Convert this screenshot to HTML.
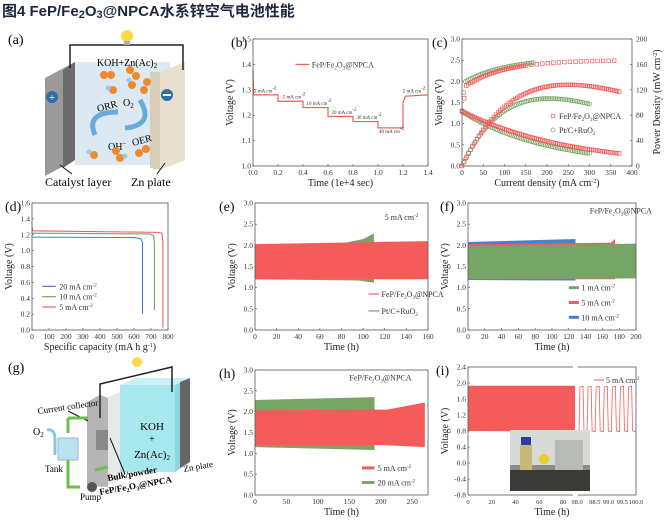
<!DOCTYPE html>
<html><head><meta charset="utf-8"><style>
html,body{margin:0;padding:0;background:#fff;width:672px;height:522px;overflow:hidden}
svg{display:block;font-family:"Liberation Serif",serif}
.ttl{font-family:"Liberation Sans","Noto Sans CJK SC",sans-serif;font-weight:bold;font-size:15px;fill:#1d2840}
</style></head><body>
<svg id="s" width="672" height="522" viewBox="0 0 672 522" xmlns="http://www.w3.org/2000/svg">
<text class="ttl" x="2" y="16">图4 FeP/Fe<tspan font-size="11" dy="2">2</tspan><tspan dy="-2">O</tspan><tspan font-size="11" dy="2">3</tspan><tspan dy="-2">@NPCA水系锌空气电池性能</tspan></text>
<!-- panel a -->
<text x="8" y="44" font-size="14">(a)</text>
<polygon points="75,62 170,62 170,165 75,165" fill="#dce9f3"/>
<polygon points="45,78 75,62 75,160 45,176" fill="#9a9a9a"/>
<polygon points="63,70 75,62 75,160 63,168" fill="#6b6b6b"/>
<polygon points="160,72 185,62 185,160 160,170" fill="#e8e0cf"/>
<polygon points="150,72 160,72 160,170 150,168" fill="#d8cdb6"/>
<polyline points="70,68 70,45 183,45 183,70" fill="none" stroke="#222" stroke-width="1.5"/>
<circle cx="127" cy="36" r="6" fill="#ffd84a"/><rect x="124" y="41" width="6" height="4" fill="#aaa"/>
<circle cx="52" cy="97" r="6" fill="#2f6fa8"/><text x="52" y="101" font-size="11" fill="#fff" text-anchor="middle">+</text>
<circle cx="167" cy="95" r="6" fill="#2f6fa8"/><rect x="163" y="94" width="8" height="2" fill="#fff"/>
<text x="127" y="66" font-size="10" text-anchor="middle">KOH+Zn(Ac)<tspan font-size="7" dy="2">2</tspan></text>
<text x="98" y="112" font-size="10" transform="rotate(-15 98 112)">ORR</text>
<text x="123" y="106" font-size="10">O<tspan font-size="7" dy="2">2</tspan></text>
<text x="108" y="150" font-size="10">OH<tspan font-size="7" dy="-4">−</tspan></text>
<text x="133" y="146" font-size="10" transform="rotate(-15 133 146)">OER</text>
<path d="M95,135 Q85,112 118,112" fill="none" stroke="#6aa9d8" stroke-width="5"/>
<path d="M125,128 Q155,125 140,100" fill="none" stroke="#6aa9d8" stroke-width="5"/>
<g fill="#ee8a2e">
<circle cx="104" cy="75" r="4"/><circle cx="111" cy="75" r="4"/><circle cx="130" cy="70" r="4"/><circle cx="136" cy="76" r="4"/>
<circle cx="132" cy="85" r="4"/><circle cx="144" cy="90" r="4"/><circle cx="147" cy="82" r="4"/><circle cx="113" cy="90" r="4"/>
<circle cx="94" cy="155" r="4"/><circle cx="116" cy="151" r="4"/><circle cx="120" cy="158" r="4"/><circle cx="139" cy="153" r="4"/><circle cx="146" cy="149" r="4"/>
</g>
<g fill="#9cc9ea"><circle cx="108" cy="88" r="2.5"/><circle cx="129" cy="80" r="2.5"/><circle cx="89" cy="152" r="2.5"/><circle cx="125" cy="156" r="2.5"/></g>
<line x1="60" y1="165" x2="72" y2="174" stroke="#111"/><line x1="165" y1="163" x2="157" y2="174" stroke="#111"/>
<text x="45" y="186" font-size="12">Catalyst layer</text><text x="131" y="186" font-size="12">Zn plate</text>
<!-- panel g -->
<text x="8" y="372" font-size="14">(g)</text>
<polygon points="120,385 135,378 190,378 175,385" fill="#c9f0f3"/>
<polygon points="120,385 175,385 175,472 120,472" fill="#a7e8ee"/>
<polygon points="175,385 190,378 190,462 175,472" fill="#8fd6de"/>
<polygon points="180,382 190,378 190,462 180,468" fill="#666"/>
<polygon points="106,398 120,392 120,480 106,486" fill="#e8e8e8"/>
<polygon points="87,402 100,395 108,398 108,487 87,486" fill="#b5b5b5"/>
<rect x="96" y="430" width="12" height="20" fill="#888"/>
<polyline points="100,418 100,384 172,367 172,392" fill="none" stroke="#222" stroke-width="1.5"/>
<circle cx="137" cy="362" r="5" fill="#ffd84a"/>
<text x="152" y="430" font-size="11" text-anchor="middle">KOH</text><text x="152" y="442" font-size="10" text-anchor="middle">+</text>
<text x="152" y="458" font-size="11" text-anchor="middle">Zn(Ac)<tspan font-size="7" dy="2">2</tspan></text>
<text x="38" y="414" font-size="9" transform="rotate(-8 38 414)">Current collector</text>
<line x1="68" y1="411" x2="88" y2="421" stroke="#111"/>
<text x="33" y="435" font-size="10">O<tspan font-size="7" dy="2">2</tspan></text>
<path d="M47,430 Q55,428 55,440 L55,455" fill="none" stroke="#8cc4e8" stroke-width="3"/>
<rect x="58" y="438" width="20" height="22" fill="#b9e3f0" stroke="#9bb"/>
<path d="M68,418 L68,433 M68,418 L88,418 M68,460 L68,487 L80,487 M95,470 L108,467" fill="none" stroke="#6cbf4a" stroke-width="3"/>
<circle cx="92" cy="487" r="5" fill="#555"/>
<text x="45" y="472" font-size="9">Tank</text><text x="80" y="500" font-size="9">Pump</text>
<text x="108" y="481" font-size="9" font-weight="bold" transform="rotate(-10 108 481)">Bulk/powder</text>
<text x="100" y="495" font-size="9" font-weight="bold" transform="rotate(-10 100 495)">FeP/Fe<tspan font-size="6" dy="2">2</tspan><tspan dy="-2">O</tspan><tspan font-size="6" dy="2">3</tspan><tspan dy="-2">@NPCA</tspan></text>
<line x1="110" y1="438" x2="125" y2="474" stroke="#111"/>
<text x="184" y="472" font-size="9" transform="rotate(-10 184 472)">Zn plate</text>
<g id="dyn"></g>
</svg>
<script>
const S=[];
function T(x,y,s,o){o=o||{};S.push(`<text x="${x}" y="${y}" font-size="${o.fs||7.5}" text-anchor="${o.a||'middle'}" ${o.tr?`transform="${o.tr}"`:''} fill="${o.c||'#333'}">${s}</text>`)}
function ax(P){
 const X=v=>P.x0+(v-P.xa)/(P.xb-P.xa)*(P.x1-P.x0), Y=v=>P.y1-(v-P.ya)/(P.yb-P.ya)*(P.y1-P.y0);
 if(!P.noX){for(let v=P.xa;v<=P.xb+1e-9;v+=P.xs){const x=X(v);S.push(`<line x1="${x}" y1="${P.y1}" x2="${x}" y2="${P.y1-2}" stroke="#444" stroke-width=".6"/>`);T(x,P.y1+9,v.toFixed(P.xd||0));}}
 for(let v=P.ya;v<=P.yb+1e-9;v+=P.ys){const y=Y(v);S.push(`<line x1="${P.x0}" y1="${y}" x2="${P.x0+2}" y2="${y}" stroke="#444" stroke-width=".6"/>`);T(P.x0-2,y+2.5,v.toFixed(P.yd==null?1:P.yd),{a:'end'});}
 if(P.xl)T((P.x0+P.x1)/2,P.y1+20,P.xl,{fs:10,c:'#222'});
 if(P.yl)T(P.x0-20,(P.y0+P.y1)/2,P.yl,{fs:10,c:'#222',tr:`rotate(-90 ${P.x0-20} ${(P.y0+P.y1)/2})`});
 if(P.lab)T(P.x0-(P.lx||30),P.y0+8,P.lab,{fs:14,c:'#111',a:'start'});
 return {X,Y,frame:()=>S.push(`<rect x="${P.x0}" y="${P.y0}" width="${P.x1-P.x0}" height="${P.y1-P.y0}" fill="none" stroke="#555" stroke-width=".8"/>`)};
}
const sup='<tspan font-size="5" dy="-3">-2</tspan>';
const fe='FeP/Fe<tspan font-size="5" dy="2">2</tspan><tspan dy="-2">O</tspan><tspan font-size="5" dy="2">3</tspan><tspan dy="-2">@NPCA</tspan>';
const pt='Pt/C+RuO<tspan font-size="5" dy="2">2</tspan>';
const R='#f45b5b',G='#76a565',B='#4a7fd0';
function band(A,pts,c){S.push(`<polygon points="${pts.map(p=>A.X(p[0])+','+A.Y(p[1])).join(' ')}" fill="${c}"/>`)}
function line(A,pts,c,w){S.push(`<polyline points="${pts.map(p=>A.X(p[0])+','+A.Y(p[1])).join(' ')}" fill="none" stroke="${c}" stroke-width="${w||1}"/>`)}
// b
let A=ax({x0:253,y0:39,x1:428,y1:166,xa:0,xb:1.4,xs:.2,xd:1,ya:1,yb:1.5,ys:.1,xl:'Time (1e+4 sec)',yl:'Voltage (V)',lab:'(b)',lx:22});
line(A,[[0,1.38],[0.005,1.28],[.2,1.28],[.2,1.255],[.4,1.255],[.4,1.23],[.6,1.23],[.6,1.195],[.8,1.195],[.8,1.175],[1,1.175],[1,1.15],[1.2,1.15],[1.2,1.25],[1.22,1.275],[1.4,1.28]],R,1.2);
A.frame();
line(A,[[.34,1.4],[.45,1.4]],R,1.2);T(A.X(.47),A.Y(1.4)+3,fe,{a:'start',fs:8});
[['2 mA cm'+sup,.0,1.29],['5 mA cm'+sup,.23,1.265],['10 mA cm'+sup,.42,1.24],['20 mA cm'+sup,.62,1.205],['30 mA cm'+sup,.82,1.185],['40 mA cm'+sup,1.0,1.13],['2 mA cm'+sup,1.19,1.29]].forEach(a=>T(A.X(a[1])+1,A.Y(a[2]),a[0],{a:'start',fs:5}));
// c
A=ax({x0:462,y0:39,x1:632,y1:166,xa:0,xb:400,xs:50,ya:0,yb:3,ys:.5,xl:'Current density (mA cm<tspan font-size="6" dy="-3">-2</tspan><tspan dy="3">)</tspan>',yl:'Voltage (V)',lab:'(c)',lx:30});
for(let v=0;v<=200;v+=40){const y=166-v/200*127;S.push(`<line x1="630" y1="${y}" x2="632" y2="${y}" stroke="#444" stroke-width=".6"/>`);T(636,y+2.5,v,{a:'start'});}
T(660,102,'Power Density (mW cm<tspan font-size="6" dy="-3">-2</tspan><tspan dy="3">)</tspan>',{fs:10,c:'#222',tr:'rotate(-90 660 102)'});
const YP=p=>166-p/200*127;
function mk(x,y,c,sq){S.push(sq?`<rect x="${x-1.8}" y="${y-1.8}" width="3.6" height="3.6" fill="none" stroke="${c}" stroke-width=".7"/>`:`<circle cx="${x}" cy="${y}" r="2" fill="none" stroke="${c}" stroke-width=".7"/>`)}
for(let j=0;j<=300;j+=4){const v=1.28*Math.exp(-j/205);mk(A.X(j),A.Y(v),G);mk(A.X(j),YP(v*j*1.1),G);}
for(let j=0;j<=168;j+=4){const v=j<6?1.3+0.65*j/6:1.95+0.6*(1-Math.exp(-j/100));mk(A.X(j),A.Y(v),G);}
for(let j=0;j<=370;j+=5){const v=1.3*Math.exp(-j/250);mk(A.X(j),A.Y(v),R,1);mk(A.X(j),YP(v*j*1.07),R,1);}
for(let j=0;j<=370;j+=(j<150?5:13)){const v=j<10?1.3+0.6*j/10:1.9+0.6*(1-Math.exp(-(j-10)/90));mk(A.X(j),A.Y(v),R,1);}
A.frame();
S.push('<rect x="548" y="109" width="82" height="28" fill="#fff" fill-opacity="0.85"/>');
mk(553,116,R,1);T(559,119,fe,{a:'start',fs:8});mk(553,130,G);T(559,133,pt,{a:'start',fs:8});
// d
A=ax({x0:32,y0:203,x1:168,y1:330,xa:0,xb:800,xs:100,ya:0,yb:1.6,ys:.2,xl:'Specific capacity (mA h g<tspan font-size="6" dy="-3">-1</tspan><tspan dy="3">)</tspan>',yl:'Voltage (V)',lab:'(d)',lx:27});
line(A,[[0,1.17],[600,1.165],[640,1.15],[650,1.1],[650,.2]],B,1.1);
line(A,[[0,1.22],[690,1.21],[715,1.19],[720,1.1],[720,.25]],G,1.1);
line(A,[[0,1.3],[5,1.25],[740,1.23],[765,1.22],[770,1.1],[770,.03]],R,1.1);
A.frame();
[['20',B,.55],['10',G,.42],['5',R,.29]].forEach(a=>{line(A,[[60,a[2]],[140,a[2]]],a[1],1.2);T(A.X(160),A.Y(a[2])+3,a[0]+' mA cm'+sup,{a:'start',fs:8});});
// e
A=ax({x0:255,y0:203,x1:428,y1:330,xa:0,xb:160,xs:20,ya:0,yb:3,ys:.5,xl:'Time (h)',yl:'Voltage (V)',lab:'(e)',lx:36});
band(A,[[0,2.02],[80,2.04],[100,2.15],[110,2.28],[110,1.12],[95,1.17],[0,1.2]],G);
band(A,[[0,2.03],[160,2.1],[160,1.2],[0,1.2]],R);
A.frame();T(A.X(120),A.Y(2.6),'5 mA cm'+sup,{a:'start',fs:8});
line(A,[[105,.85],[115,.85]],'#f6a0a0',2);T(A.X(117),A.Y(.85)+3,fe,{a:'start',fs:8});
line(A,[[105,.45],[115,.45]],G,1.2);T(A.X(117),A.Y(.45)+3,pt,{a:'start',fs:8});
// f
A=ax({x0:468,y0:203,x1:636,y1:330,xa:0,xb:200,xs:20,ya:0,yb:3,ys:.5,xl:'Time (h)',yl:'Voltage (V)',lab:'(f)',lx:28});
band(A,[[0,2.08],[128,2.15],[128,1.17],[0,1.18]],B);
band(A,[[0,2.03],[170,2.06],[175,2.15],[175,1.2],[0,1.2]],R);
band(A,[[0,1.98],[200,2.04],[200,1.22],[0,1.2]],G);
A.frame();T(A.X(145),A.Y(2.75),fe,{a:'start',fs:8});
[['1',G,1.0],['5',R,.65],['10',B,.3]].forEach(a=>{line(A,[[120,a[2]],[132,a[2]]],a[1],3);T(A.X(135),A.Y(a[2])+3,a[0]+' mA cm'+sup,{a:'start',fs:8});});
// h
A=ax({x0:255,y0:370,x1:428,y1:495,xa:0,xb:275,xs:50,ya:0,yb:3,ys:.5,xl:'Time (h)',yl:'Voltage (V)',lab:'(h)',lx:36,noX:1});
for(let v=0;v<=250;v+=50){const x=A.X(v);T(x,504,v);}
band(A,[[0,2.28],[190,2.35],[190,1.08],[0,1.15]],G);
band(A,[[0,2.03],[210,2.05],[270,2.22],[270,1.15],[200,1.2],[0,1.2]],R);
A.frame();T(A.X(150),A.Y(2.75),fe,{a:'start',fs:8});
line(A,[[170,.65],[190,.65]],R,3);T(A.X(195),A.Y(.65)+3,'5 mA cm'+sup,{a:'start',fs:8});
line(A,[[170,.3],[190,.3]],G,3);T(A.X(195),A.Y(.3)+3,'20 mA cm'+sup,{a:'start',fs:8});
// i
A=ax({x0:468,y0:367,x1:636,y1:495,xa:0,xb:1,xs:1,ya:-.8,yb:2.4,ys:.4,xl:'Time (h)',yl:'Voltage (V)',lab:'(i)',lx:32,noX:1});
const XL=v=>468+v/90*107, XR=v=>579+(v-98)/2*55;
for(let v=0;v<=80;v+=20)T(XL(v),504,v,{fs:6.5});T(XL(90)+2,504,'98.0',{fs:6.5});
for(let v=98.5;v<=100.01;v+=.5)T(XR(v)+2,504,v.toFixed(1),{fs:6.5});
const Yi=v=>495-(v+.8)/3.2*128;
S.push(`<polygon points="468,${Yi(1.93)} 575,${Yi(1.93)} 575,${Yi(.78)} 468,${Yi(.8)}" fill="${R}"/>`);
let d='M579,'+Yi(.8);for(let k=0;k<7;k++){const x=579+k*8.1;d+=` L${x+1},${Yi(1.9)} L${x+4},${Yi(1.92)} L${x+5},${Yi(.8)} L${x+8},${Yi(.78)}`;}
S.push(`<path d="${d}" fill="none" stroke="${R}" stroke-width=".8"/>`);
S.push(`<rect x="510" y="430" width="80" height="61" fill="#8a8c88"/><rect x="510" y="430" width="80" height="35" fill="#d8dad6"/><rect x="510" y="470" width="80" height="21" fill="#3a3a36"/><rect x="520" y="445" width="12" height="25" fill="#c8b878"/><rect x="521" y="437" width="10" height="8" fill="#2a40a0"/><circle cx="544" cy="459" r="5" fill="#e8d020"/><rect x="555" y="440" width="28" height="30" fill="#b8bab8"/>`);
A.frame();
S.push(`<rect x="573" y="364" width="5" height="6" fill="#fff"/><rect x="573" y="492" width="5" height="6" fill="#fff"/>`);
line({X:x=>x,Y:y=>y},[[594,380],[604,380]],R,1);T(606,383,'5 mA cm'+sup,{a:'start',fs:8});
document.getElementById('dyn').innerHTML=S.join('');
</script>
</body></html>
